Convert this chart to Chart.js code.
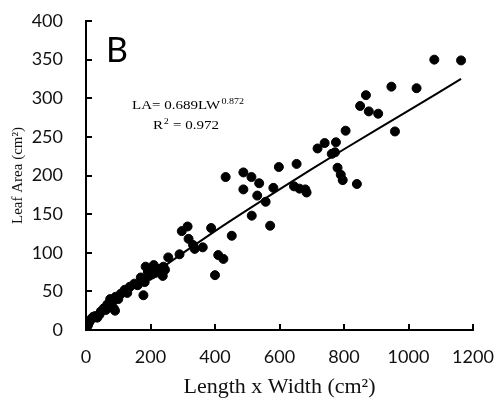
<!DOCTYPE html>
<html>
<head>
<meta charset="utf-8">
<title>Leaf Area vs Length x Width</title>
<script src="https://cdn.jsdelivr.net/npm/chart.js@4/dist/chart.umd.min.js"></script>
<style>
    html, body { margin: 0; padding: 0; background: #fff; }
    #wrap { width: 498px; height: 405px; }
</style>
</head>
<body>
<div id="wrap"><canvas id="leafChart" width="498" height="405"></canvas></div>
<script>
// Ölçümler: uzunluk x genişlik (cm²) ve yaprak alanı (cm²)
const lwValues = [
    2, 6, 10, 15, 22, 28, 35, 42, 46, 55, 62, 66, 80, 75, 86, 90, 92, 100, 108, 120,
    128, 136, 150, 160, 170, 178, 182, 185, 192, 196, 205, 210, 216, 226, 238, 240, 245, 255, 290, 297,
    315, 318, 332, 337, 362, 388, 400, 410, 426, 452, 433, 488, 488, 513, 514, 531, 537, 557, 571, 581,
    598, 645, 653, 662, 680, 684, 718, 740, 762, 772, 775, 780, 790, 796, 805, 840, 850, 868, 877, 906,
    947, 958, 1025, 1080, 1163
];
const laValues = [
    3, 6, 10, 14, 17, 18, 16, 20, 24, 28, 26, 33, 35, 40, 28, 25, 43, 40, 47, 52,
    48, 56, 60, 58, 68, 45, 62, 82, 75, 70, 72, 84, 74, 79, 70, 82, 78, 94, 98, 128,
    134, 118, 110, 105, 107, 132, 71, 97, 92, 122, 198, 204, 182, 198, 148, 174, 190, 166, 135, 184,
    211, 186, 215, 183, 182, 178, 235, 242, 228, 230, 243, 210, 201, 194, 258, 189, 290, 304, 283, 280,
    315, 257, 313, 350, 349
];

// Trend çizgisi (LA = 0.689LW^0.872), resimden okunan noktalar
const trendLw = [5, 100, 200, 400, 600, 800, 1000, 1163];
const trendLa = [3, 38, 70, 128, 182, 234, 284, 325];

// Eksen ayarları
const xTicks = [0, 200, 400, 600, 800, 1000, 1200];
const yTicks = [0, 50, 100, 150, 200, 250, 300, 350, 400];

const scatterPoints = lwValues.map((x, i) => ({ x: x, y: laValues[i] }));
const trendPoints = trendLw.map((x, i) => ({ x: x, y: trendLa[i] }));

// İçe dönük tick çizgileri + metinler
const decorations = {
    id: 'decorations',
    afterDraw(chart) {
        const { ctx, chartArea, scales: { x, y } } = chart;
        ctx.save();
        ctx.strokeStyle = '#000';
        ctx.lineWidth = 2;
        ctx.beginPath();
        y.ticks.forEach(t => {
            const py = Math.round(y.getPixelForValue(t.value));
            ctx.moveTo(chartArea.left, py);
            ctx.lineTo(chartArea.left + 6, py);
        });
        x.ticks.forEach(t => {
            const px = Math.round(x.getPixelForValue(t.value));
            ctx.moveTo(px, chartArea.bottom);
            ctx.lineTo(px, chartArea.bottom - 6);
        });
        ctx.stroke();

        // Panel harfi
        ctx.fillStyle = '#000';
        ctx.textBaseline = 'alphabetic';
        ctx.textAlign = 'left';
        ctx.font = '34px Lato';
        ctx.fillText('B', 106, 62);

        // Denklem
        ctx.save();
        ctx.translate(132, 109);
        ctx.scale(1.25, 1);
        ctx.font = '12px "Liberation Serif"';
        ctx.fillText('LA= 0.689LW', 0, 0);
        const w = ctx.measureText('LA= 0.689LW').width;
        ctx.font = '8px "Liberation Serif"';
        ctx.fillText('0.872', w + 1, -5);
        ctx.restore();

        ctx.save();
        ctx.translate(153, 129);
        ctx.scale(1.25, 1);
        ctx.font = '12px "Liberation Serif"';
        ctx.fillText('R', 0, 0);
        const rw = ctx.measureText('R').width;
        ctx.font = '8px "Liberation Serif"';
        ctx.fillText('2', rw + 0.5, -5);
        ctx.font = '12px "Liberation Serif"';
        ctx.fillText(' = 0.972', rw + 5, 0);
        ctx.restore();

        ctx.restore();
    }
};

new Chart(document.getElementById('leafChart'), {
    type: 'scatter',
    data: {
        datasets: [
            {
                data: scatterPoints,
                backgroundColor: '#000',
                borderColor: '#000',
                pointRadius: 4.5,
                pointHoverRadius: 4.5
            },
            {
                type: 'line',
                data: trendPoints,
                borderColor: '#000',
                borderWidth: 2,
                pointRadius: 0,
                fill: false,
                tension: 0.3
            }
        ]
    },
    options: {
        responsive: false,
        animation: false,
        layout: { padding: { top: 21, right: 25, left: 0, bottom: 0 } },
        plugins: {
            legend: { display: false },
            tooltip: { enabled: false }
        },
        scales: {
            x: {
                type: 'linear',
                min: 0,
                max: 1200,
                afterBuildTicks: s => { s.ticks = xTicks.map(v => ({ value: v })); },
                afterFit: s => {
                    s.height = 75;
                    s.paddingLeft = 0;
                    s.paddingRight = 0;
                },
                grid: { display: false, drawTicks: false, tickLength: 0 },
                border: { display: true, color: '#000', width: 2 },
                ticks: {
                    color: '#111',
                    font: { family: 'Lato', size: 18 },
                    padding: 16,
                    maxRotation: 0,
                    callback: v => String(v)
                },
                title: {
                    display: true,
                    text: 'Length x Width (cm²)',
                    color: '#111',
                    font: { family: '"Liberation Serif"', size: 22 },
                    padding: { top: 0, bottom: 5 }
                }
            },
            y: {
                type: 'linear',
                min: 0,
                max: 400,
                afterBuildTicks: s => { s.ticks = yTicks.map(v => ({ value: v })); },
                afterFit: s => {
                    s.width = 86;
                    s.paddingTop = 0;
                    s.paddingBottom = 0;
                },
                grid: { display: false, drawTicks: false, tickLength: 0 },
                border: { display: true, color: '#000', width: 2 },
                ticks: {
                    color: '#111',
                    font: { family: 'Lato', size: 18 },
                    padding: 23,
                    callback: v => String(v)
                },
                title: {
                    display: true,
                    text: 'Leaf Area (cm²)',
                    color: '#111',
                    font: { family: '"Liberation Serif"', size: 15 },
                    padding: { top: 9, bottom: 0 }
                }
            }
        }
    },
    plugins: [decorations]
});
</script>
</body>
</html>
